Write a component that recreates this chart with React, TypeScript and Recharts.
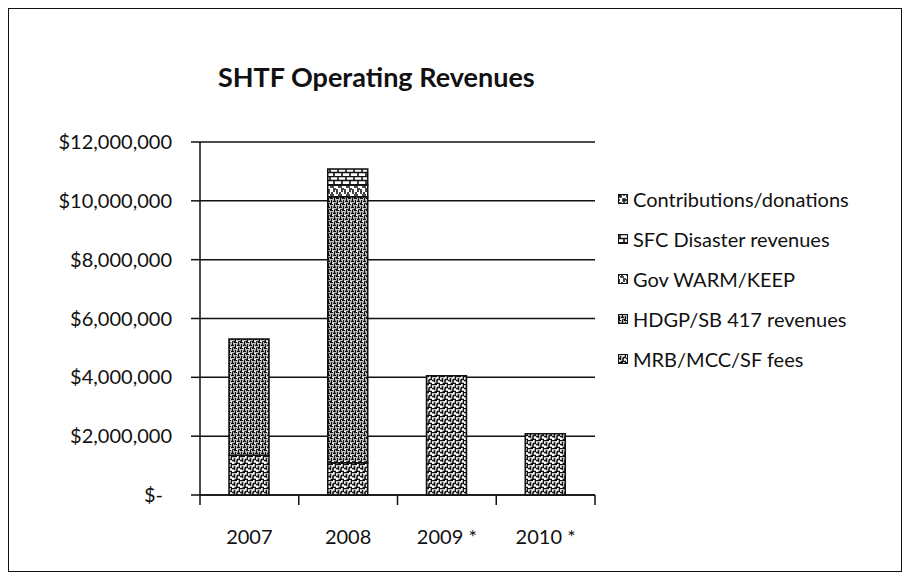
import { BarChart, Bar, XAxis, YAxis, CartesianGrid } from 'recharts';

const years = ['2007', '2008', '2009 *', '2010 *'];
const mrbFees = [1350000, 1100000, 4050000, 2080000];
const hdgpSb417 = [3950000, 9040000, 0, 0];
const govWarmKeep = [0, 400000, 0, 0];
const sfcDisaster = [0, 540000, 0, 0];
const contributions = [0, 0, 0, 0];
const yTicks = [0, 2000000, 4000000, 6000000, 8000000, 10000000, 12000000];

// bottom to top, the order the stacks are built in
const series = [
  { key: 'mrb', name: 'MRB/MCC/SF fees', values: mrbFees, pattern: 'pMrb' },
  { key: 'hdgp', name: 'HDGP/SB 417 revenues', values: hdgpSb417, pattern: 'pHdgp' },
  { key: 'gov', name: 'Gov WARM/KEEP', values: govWarmKeep, pattern: 'pGov' },
  { key: 'sfc', name: 'SFC Disaster revenues', values: sfcDisaster, pattern: 'pSfc' },
  { key: 'contrib', name: 'Contributions/donations', values: contributions, pattern: 'pContrib' },
];

const data = years.map((year, i) => {
  const row: Record<string, string | number> = { year };
  series.forEach((s) => {
    row[s.key] = s.values[i];
  });
  return row;
});

const W = 910;
const H = 580;
const MARGIN = { top: 142, right: 315, bottom: 55, left: 10 };
const Y_AXIS_W = 190;
const PLOT_W = W - MARGIN.left - MARGIN.right - Y_AXIS_W;
const BAND = PLOT_W / years.length;
const INK = '#111';

const patterns: Record<string, { size: number; d: string }> = {
  pMrb: { size: 8, d: 'M0 0.5H5M7.5 0V4M2.5 2V6M0 4.5H2M5 3.5V8M2.5 7.5H8M5 3.5H8' },
  pHdgp: { size: 6, d: 'M0 0.5H3M4.5 0V3M1.5 2V5M3 3.5H6M0 5.5H2M5 5V6' },
  pGov: { size: 8, d: 'M0 1H2M4 0V2M2 3H6M1 5V8M5 5H8M6 6V8' },
  pSfc: { size: 8, d: 'M0 0.5H8M0 4.5H8M2 1V4M6 5V8' },
  pContrib: { size: 8, d: 'M1 1H3V3H1ZM5 5H7V7H5ZM5 1H7M1 5V7' },
};

const PatternDefs = () => (
  <defs>
    {Object.entries(patterns).map(([id, p]) => (
      <pattern key={id} id={id} width={p.size} height={p.size} patternUnits="userSpaceOnUse">
        <rect width={p.size} height={p.size} fill="#fff" />
        <path d={p.d} stroke={INK} strokeWidth={1.6} fill="none" />
      </pattern>
    ))}
  </defs>
);

const money = (v: number) => (v === 0 ? '$-' : '$' + v.toLocaleString('en-US'));

function YTick(props: any) {
  const { x, y, payload } = props;
  const v = Number(payload.value);
  return (
    <text x={v === 0 ? x - 9 : x} y={y} dy="0.35em" textAnchor="end" fill={INK} fontSize={20} fontFamily="Lato">
      {money(v)}
    </text>
  );
}

function XTick(props: any) {
  const { x, y, payload, index } = props;
  const axisY = y - 10;
  const last = index === years.length - 1;
  return (
    <g>
      <line x1={x - BAND / 2} x2={x - BAND / 2} y1={axisY} y2={axisY + 10} stroke={INK} strokeWidth={1.5} />
      {last && <line x1={x + BAND / 2} x2={x + BAND / 2} y1={axisY} y2={axisY + 10} stroke={INK} strokeWidth={1.5} />}
      <text x={x} y={axisY + 49} textAnchor="middle" fill={INK} fontSize={20} fontFamily="Lato">
        {payload.value}
      </text>
    </g>
  );
}

function LegendBox() {
  const items = [...series].reverse();
  return (
    <div style={{ position: 'absolute', left: 618, top: 179, fontFamily: 'Lato', fontSize: 20, color: INK }}>
      {items.map((s) => (
        <div key={s.key} style={{ display: 'flex', alignItems: 'center', height: 40 }}>
          <svg width={10} height={10} style={{ marginRight: 5 }}>
            <rect x={0.5} y={0.5} width={9} height={9} fill={`url(#${s.pattern})`} stroke={INK} />
          </svg>
          <span style={{ whiteSpace: 'nowrap' }}>{s.name}</span>
        </div>
      ))}
    </div>
  );
}

export default function App() {
  return (
    <div
      style={{
        position: 'relative',
        width: W,
        height: H,
        margin: -8,
        background: '#fff',
        fontFamily: 'Lato',
      }}
    >
      <div
        style={{
          position: 'absolute',
          left: 7,
          top: 7,
          right: 7,
          bottom: 7,
          border: `2px solid ${INK}`,
        }}
      />
      <div
        style={{
          position: 'absolute',
          left: 218,
          top: 64,
          fontSize: 27,
          lineHeight: '26px',
          fontWeight: 700,
          color: INK,
          whiteSpace: 'nowrap',
        }}
      >
        SHTF Operating Revenues
      </div>
      <div style={{ position: 'absolute', left: 0, top: 0 }}>
        <BarChart width={W} height={H} data={data} margin={MARGIN} barSize={40}>
          <PatternDefs />
          <CartesianGrid vertical={false} stroke={INK} strokeWidth={1.5} />
          <XAxis
            dataKey="year"
            axisLine={{ stroke: INK, strokeWidth: 1.5 }}
            tickLine={false}
            tickSize={10}
            tickMargin={0}
            tick={<XTick />}
            interval={0}
          />
          <YAxis
            width={Y_AXIS_W}
            domain={[0, 12000000]}
            ticks={yTicks}
            interval={0}
            axisLine={{ stroke: INK, strokeWidth: 1.5 }}
            tickLine={{ stroke: INK, strokeWidth: 1.5 }}
            tickSize={9}
            tickMargin={19}
            tick={<YTick />}
          />
          {series.map((s) => (
            <Bar
              key={s.key}
              dataKey={s.key}
              name={s.name}
              stackId="rev"
              fill={`url(#${s.pattern})`}
              stroke={INK}
              strokeWidth={1.5}
              isAnimationActive={false}
            />
          ))}
        </BarChart>
      </div>
      <LegendBox />
    </div>
  );
}
